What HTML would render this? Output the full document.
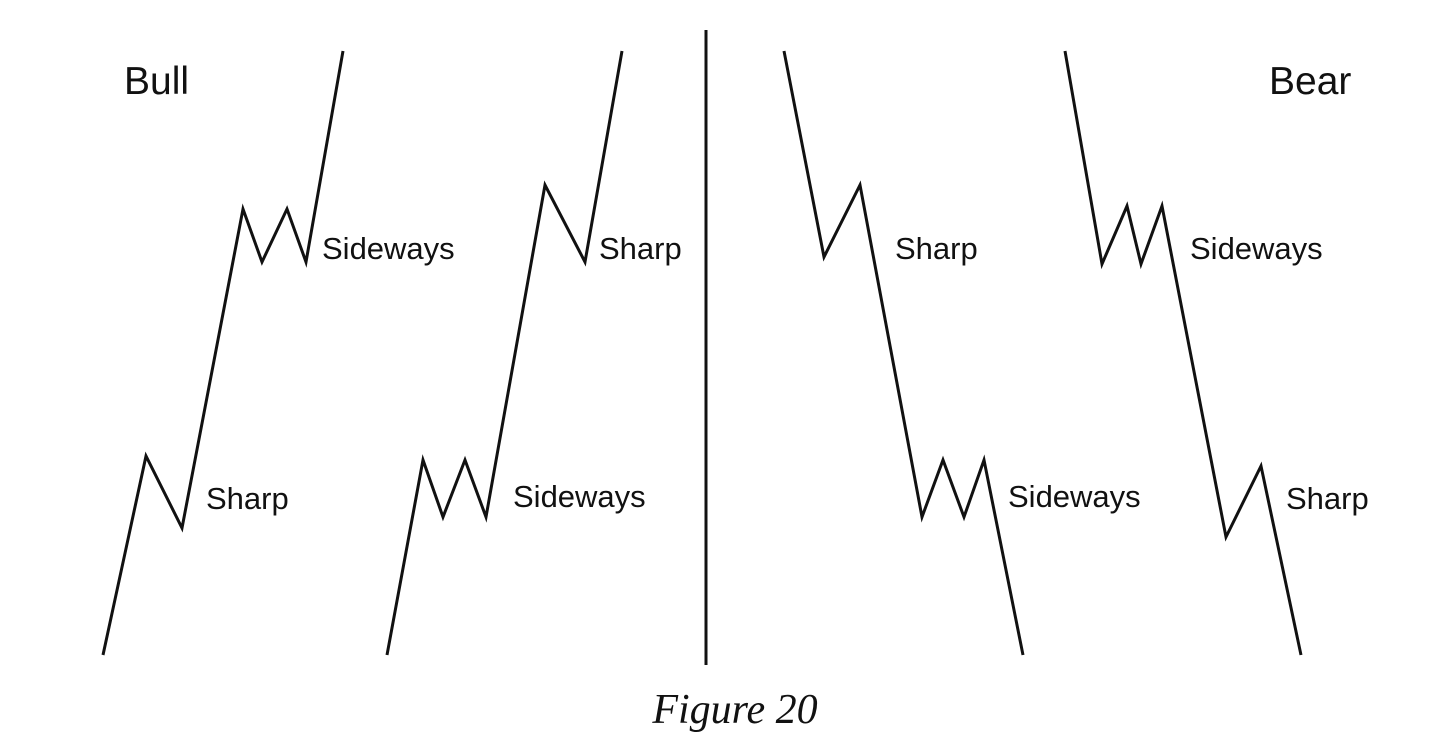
<!DOCTYPE html>
<html><head><meta charset="utf-8"><style>
html,body{margin:0;padding:0;background:#fff;}
svg{display:block;}
.t{font-family:"Liberation Sans",sans-serif;font-size:31px;fill:#111;}
.b{font-family:"Liberation Sans",sans-serif;font-size:39px;fill:#111;}
.f{font-family:"Liberation Serif",serif;font-style:italic;font-size:42px;fill:#111;}
</style></head><body>
<svg width="1430" height="752" viewBox="0 0 1430 752" xmlns="http://www.w3.org/2000/svg">
<g fill="none" stroke="#111" stroke-width="3" stroke-linejoin="miter">
<polyline points="103,655 146,456 182,528 243,209 262,262 287,209 306,262 343,51"/>
<polyline points="387,655 423,460 443,517 465,460 486,517 545,185 585,262 622,51"/>
<line x1="706" y1="30" x2="706" y2="665"/>
<polyline points="784,51 824,257 860,185 922,517 943,460 964,517 984,460 1023,655"/>
<polyline points="1065,51 1102,264 1127,206 1141,264 1162,206 1226,537 1261,466 1301,655"/>
</g>
<text class="b" x="124" y="94">Bull</text>
<text class="b" x="1269" y="94">Bear</text>
<text class="t" x="322" y="259">Sideways</text>
<text class="t" x="206" y="509">Sharp</text>
<text class="t" x="599" y="259">Sharp</text>
<text class="t" x="513" y="507">Sideways</text>
<text class="t" x="895" y="259">Sharp</text>
<text class="t" x="1008" y="507">Sideways</text>
<text class="t" x="1190" y="259">Sideways</text>
<text class="t" x="1286" y="509">Sharp</text>
<text class="f" x="735" y="723" text-anchor="middle">Figure 20</text>
</svg>
</body></html>
